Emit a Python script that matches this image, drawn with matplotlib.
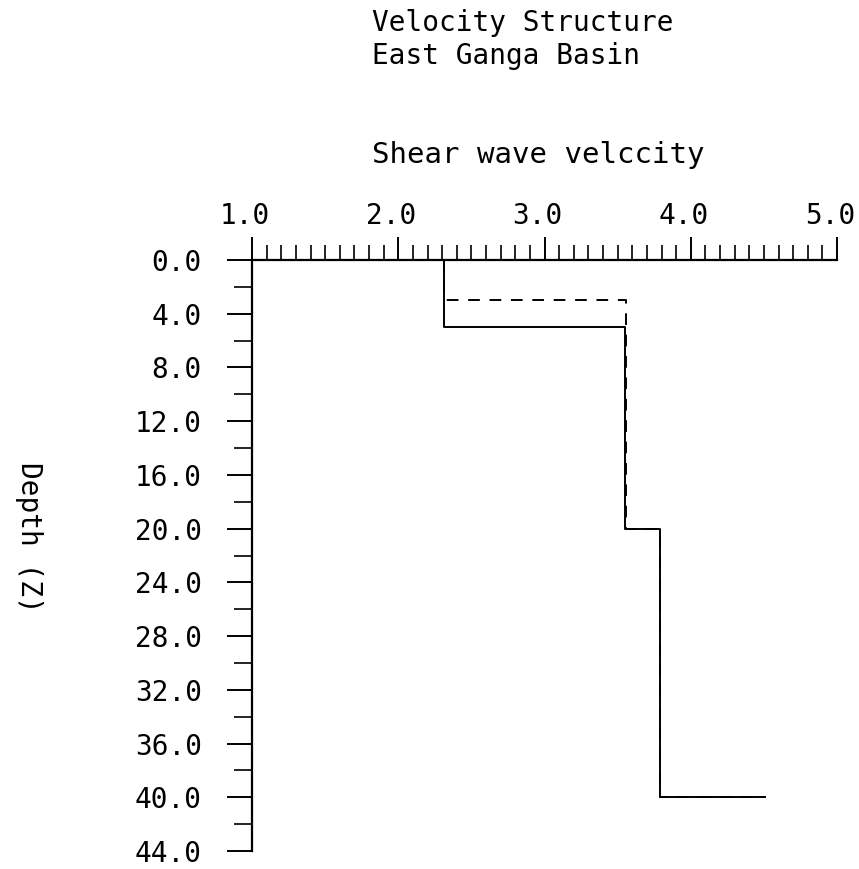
import numpy as np
import matplotlib
matplotlib.use("Agg")
import matplotlib.pyplot as plt
import matplotlib.transforms as mtransforms
from matplotlib.ticker import MultipleLocator, FormatStrFormatter

# layered shear-wave model (top of layer in km, Vs in km/s)
final_tops = [0.0, 5.0, 20.0, 40.0]
final_vs = [2.31, 3.55, 3.79, 4.51]

initial_tops = [0.0, 3.0, 20.0, 40.0]
initial_vs = [2.31, 3.56, 3.79, 4.51]

x_ticks = [1.0, 2.0, 3.0, 4.0, 5.0]
depth_ticks = [0.0, 4.0, 8.0, 12.0, 16.0, 20.0, 24.0, 28.0, 32.0, 36.0, 40.0, 44.0]


def staircase(tops, vs):
    # vertical segment per layer, horizontal step at each interface;
    # the half-space is drawn as a horizontal stub at its top
    xs, ys = [], []
    for i in range(len(tops) - 1):
        xs += [vs[i], vs[i]]
        ys += [tops[i], tops[i + 1]]
    xs.append(vs[-1])
    ys.append(tops[-1])
    return np.array(xs), np.array(ys)


plt.rcParams['font.family'] = ['DejaVu Sans Mono']
fig = plt.figure(figsize=(8.59, 8.69), dpi=100)
ax = fig.add_axes([252 / 859, 18 / 869, 585 / 859, 591 / 869])

xi, yi = staircase(initial_tops, initial_vs)
ax.plot(xi, yi, color='black', linewidth=1.4, linestyle=(0, (6, 5)))
xf, yf = staircase(final_tops, final_vs)
ax.plot(xf, yf, color='black', linewidth=1.4)

ax.set_xlim(1.0, 5.0)
ax.set_ylim(44.0, 0.0)

for side in ('right', 'bottom'):
    ax.spines[side].set_visible(False)
for side in ('left', 'top'):
    ax.spines[side].set_linewidth(1.6)

ax.xaxis.tick_top()
ax.set_xticks(x_ticks)
ax.xaxis.set_major_formatter(FormatStrFormatter('%.1f'))
ax.xaxis.set_minor_locator(MultipleLocator(0.1))
ax.tick_params(axis='x', which='major', direction='out', length=16.5, width=1.4,
               pad=5, labelsize=20)
ax.tick_params(axis='x', which='minor', direction='out', length=11, width=1.2)

ax.set_yticks(depth_ticks)
ax.yaxis.set_major_formatter(FormatStrFormatter('%.1f'))
ax.yaxis.set_minor_locator(MultipleLocator(2.0))
ax.tick_params(axis='y', which='major', direction='out', length=18, width=1.4,
               pad=18, labelsize=20)
ax.tick_params(axis='y', which='minor', direction='out', length=13, width=1.2)

# top labels sit slightly left of their ticks
shift = mtransforms.ScaledTranslation(-7 / 100, 0, fig.dpi_scale_trans)
for lab in ax.get_xticklabels():
    lab.set_transform(lab.get_transform() + shift)

fig.text(372 / 859, 1 - 31 / 869, 'Velocity Structure', fontsize=20,
         ha='left', va='baseline')
fig.text(372 / 859, 1 - 64 / 869, 'East Ganga Basin', fontsize=20,
         ha='left', va='baseline')
fig.text(372 / 859, 1 - 163 / 869, 'Shear wave velccity', fontsize=21,
         ha='left', va='baseline')
fig.text(29 / 859, 1 - 537 / 869, 'Depth (Z)', fontsize=20, rotation=270,
         ha='center', va='center')

fig.savefig('out.png', dpi=100)
